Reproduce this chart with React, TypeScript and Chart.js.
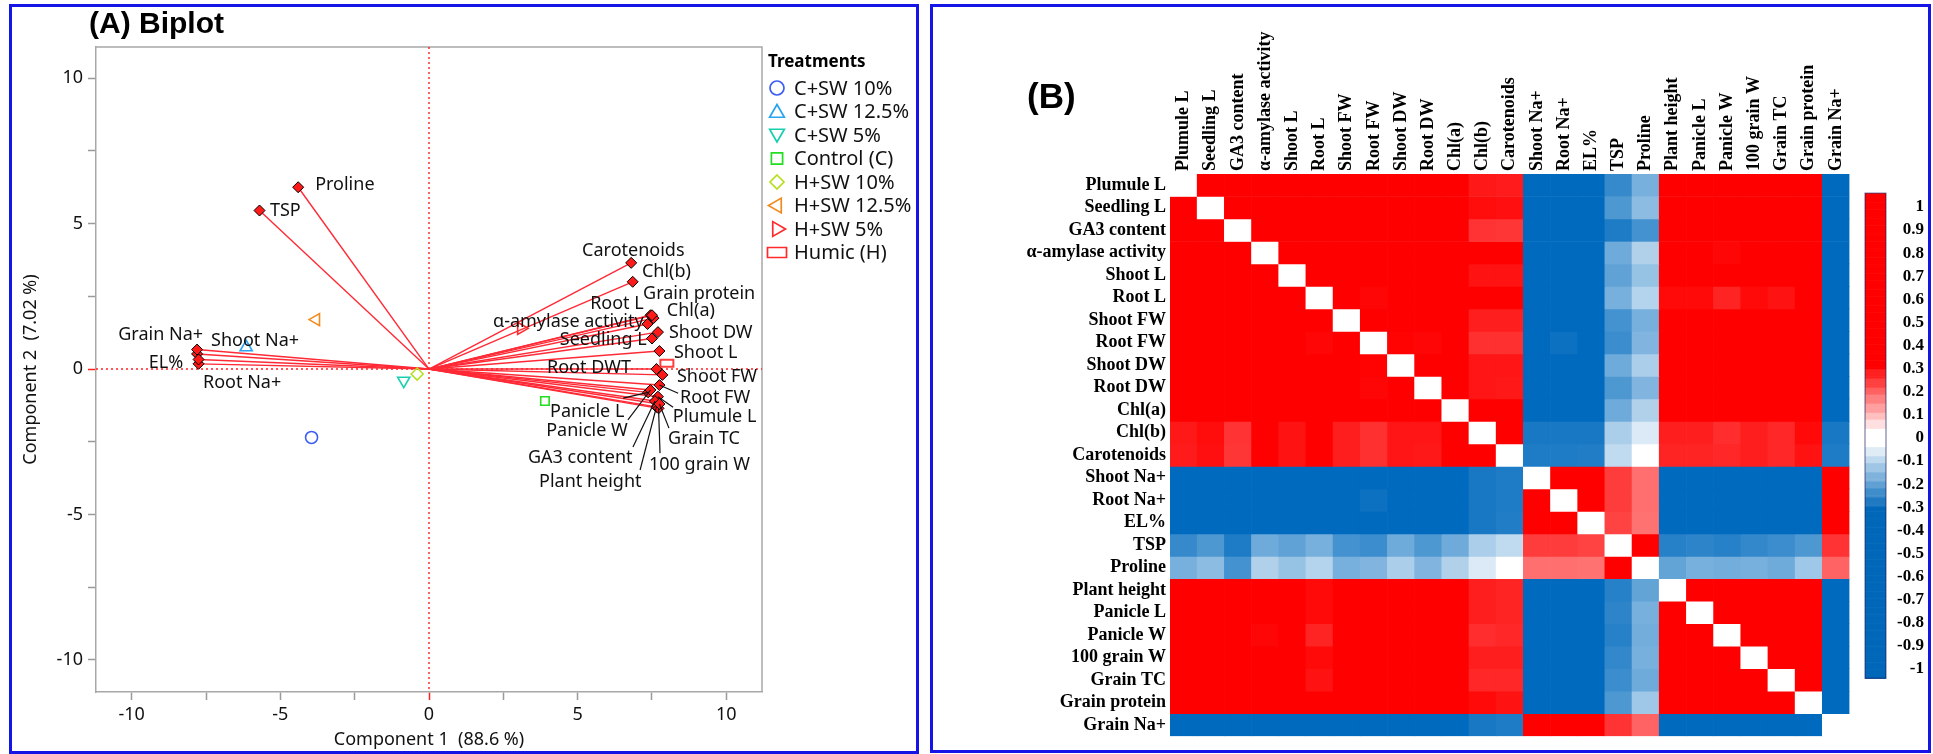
import React, { useEffect, useRef } from "react";
import { Chart, registerables } from "chart.js";

Chart.register(...registerables);

// ================= Biplot data =================
const treatments = ["C+SW 10%", "C+SW 12.5%", "C+SW 5%", "Control (C)", "H+SW 10%", "H+SW 12.5%", "H+SW 5%", "Humic (H)"];
const scoreX = [-3.95, -6.15, -0.85, 3.9, -0.4, -3.8, 3.1, 8.0];
const scoreY = [-2.35, 0.75, -0.4, -1.1, -0.17, 1.7, 1.4, 0.2];

const biplotVars = [
  "Plumule L", "Seedling L", "GA3 content", "α-amylase activity", "Shoot L", "Root L", "Shoot FW", "Root FW",
  "Shoot DW", "Root DWT", "Chl(a)", "Chl(b)", "Carotenoids", "Shoot Na+", "Root Na+", "EL%", "TSP", "Proline",
  "Plant height", "Panicle L", "Panicle W", "100 grain W", "Grain TC", "Grain protein", "Grain Na+",
];
const loadX = [7.7, 7.5, 7.6, 7.35, 7.75, 7.45, 7.85, 7.75, 7.7, 7.65, 7.55, 6.85, 6.8, -7.8, -7.75, -7.75, -5.7, -4.4, 7.65, 7.37, 7.45, 7.72, 7.75, 7.5, -7.8];
const loadY = [-0.95, 1.05, -1.1, 1.55, 0.62, 1.85, -0.2, -0.55, 1.27, 0.0, 1.75, 3.0, 3.65, 0.52, 0.18, 0.33, 5.45, 6.25, -1.3, -0.8, -0.72, -1.35, -1.2, 1.85, 0.67];

const xAxisTitle = "Component 1  (88.6 %)";
const yAxisTitle = "Component 2  (7.02 %)";

// ================= Heatmap data =================
const heatVars = [
  "Plumule L", "Seedling L", "GA3 content", "α-amylase activity", "Shoot L", "Root L", "Shoot FW", "Root FW",
  "Shoot DW", "Root DW", "Chl(a)", "Chl(b)", "Carotenoids", "Shoot Na+", "Root Na+", "EL%", "TSP", "Proline",
  "Plant height", "Panicle L", "Panicle W", "100 grain W", "Grain TC", "Grain protein", "Grain Na+",
];
// lower triangle of the correlation matrix (row i, columns 0..i-1)
const corrLower: number[][] = [
  [],
  [0.97],
  [0.96, 0.95],
  [0.97, 0.96, 0.95],
  [0.98, 0.97, 0.95, 0.97],
  [0.96, 0.97, 0.94, 0.96, 0.97],
  [0.98, 0.97, 0.93, 0.96, 0.98, 0.96],
  [0.97, 0.96, 0.93, 0.95, 0.96, 0.88, 0.97],
  [0.97, 0.96, 0.92, 0.97, 0.98, 0.96, 0.97, 0.89],
  [0.96, 0.95, 0.93, 0.96, 0.97, 0.95, 0.96, 0.88, 0.97],
  [0.97, 0.96, 0.91, 0.97, 0.97, 0.96, 0.96, 0.94, 0.96, 0.96],
  [0.82, 0.86, 0.73, 0.93, 0.84, 0.91, 0.8, 0.74, 0.83, 0.83, 0.93],
  [0.81, 0.85, 0.72, 0.92, 0.84, 0.9, 0.8, 0.74, 0.83, 0.82, 0.92, 0.96],
  [-0.95, -0.95, -0.93, -0.96, -0.95, -0.93, -0.95, -0.94, -0.96, -0.95, -0.95, -0.82, -0.8],
  [-0.95, -0.94, -0.94, -0.95, -0.95, -0.93, -0.95, -0.86, -0.95, -0.95, -0.94, -0.82, -0.8, 0.96],
  [-0.95, -0.95, -0.94, -0.95, -0.96, -0.94, -0.95, -0.95, -0.96, -0.95, -0.95, -0.82, -0.79, 0.95, 0.96],
  [-0.72, -0.64, -0.8, -0.53, -0.58, -0.5, -0.67, -0.7, -0.53, -0.64, -0.53, -0.33, -0.26, 0.7, 0.7, 0.68],
  [-0.5, -0.43, -0.67, -0.31, -0.4, -0.3, -0.5, -0.47, -0.33, -0.47, -0.31, -0.17, -0.05, 0.53, 0.53, 0.52, 0.93],
  [0.97, 0.96, 0.95, 0.97, 0.97, 0.87, 0.97, 0.95, 0.97, 0.96, 0.97, 0.8, 0.78, -0.95, -0.95, -0.95, -0.77, -0.57],
  [0.97, 0.96, 0.95, 0.96, 0.97, 0.87, 0.96, 0.95, 0.96, 0.96, 0.96, 0.8, 0.78, -0.95, -0.95, -0.94, -0.75, -0.5, 0.97],
  [0.96, 0.95, 0.94, 0.88, 0.96, 0.78, 0.96, 0.91, 0.96, 0.95, 0.96, 0.75, 0.77, -0.94, -0.94, -0.92, -0.77, -0.52, 0.97, 0.97],
  [0.97, 0.96, 0.95, 0.97, 0.97, 0.87, 0.97, 0.95, 0.97, 0.96, 0.97, 0.8, 0.8, -0.95, -0.95, -0.95, -0.73, -0.5, 0.97, 0.97, 0.96],
  [0.97, 0.96, 0.95, 0.96, 0.97, 0.84, 0.96, 0.94, 0.96, 0.96, 0.96, 0.77, 0.77, -0.95, -0.95, -0.95, -0.7, -0.53, 0.97, 0.96, 0.92, 0.97],
  [0.96, 0.96, 0.95, 0.97, 0.96, 0.95, 0.96, 0.95, 0.96, 0.96, 0.96, 0.87, 0.84, -0.94, -0.94, -0.94, -0.64, -0.37, 0.96, 0.96, 0.96, 0.93, 0.97],
  [-0.95, -0.95, -0.93, -0.95, -0.95, -0.93, -0.95, -0.94, -0.95, -0.95, -0.95, -0.82, -0.8, 0.95, 0.95, 0.95, 0.73, 0.57, -0.95, -0.95, -0.93, -0.95, -0.95, -0.94],
];
const colorbarTicks = [1, 0.9, 0.8, 0.7, 0.6, 0.5, 0.4, 0.3, 0.2, 0.1, 0, -0.1, -0.2, -0.3, -0.4, -0.5, -0.6, -0.7, -0.8, -0.9, -1];

// ================= Styles =================
const sansFont = '"Noto Sans", "Open Sans", sans-serif';
const serifFont = '"Liberation Serif", "DejaVu Serif", serif';
const treatmentColors = ["#3d5ef2", "#27a4f2", "#19cfb0", "#22dd22", "#b5e01e", "#f28a1e", "#ff2a2a", "#ff2a2a"];
const treatmentShapes = [
  { style: "circle", rotation: 0 },
  { style: "triangle", rotation: 0 },
  { style: "triangle", rotation: 180 },
  { style: "rect", rotation: 0 },
  { style: "rectRot", rotation: 0 },
  { style: "triangle", rotation: -90 },
  { style: "triangle", rotation: 90 },
  { style: "wide", rotation: 0 },
];
type LabelLayout = { x: number; y: number; align: CanvasTextAlign; lx?: number; ly?: number };
// label placement (in axis units) for each biplot variable, same order as biplotVars
const labelLayout: LabelLayout[] = [
  { x: 8.2, y: -1.65, align: "left", lx: 8.21, ly: -1.31 },
  { x: 4.4, y: 1.0, align: "left" },
  { x: 3.33, y: -3.06, align: "left", lx: 6.86, ly: -2.68 },
  { x: 2.15, y: 1.62, align: "left" },
  { x: 8.24, y: 0.55, align: "left" },
  { x: 5.42, y: 2.23, align: "left" },
  { x: 8.34, y: -0.27, align: "left" },
  { x: 8.44, y: -1.0, align: "left", lx: 8.38, ly: -0.83 },
  { x: 8.07, y: 1.24, align: "left" },
  { x: 3.97, y: 0.03, align: "left" },
  { x: 8.0, y: 1.99, align: "left" },
  { x: 7.16, y: 3.34, align: "left" },
  { x: 5.15, y: 4.06, align: "left" },
  { x: -7.33, y: 0.96, align: "left" },
  { x: -7.6, y: -0.48, align: "left" },
  { x: -8.27, y: 0.2, align: "right" },
  { x: -5.35, y: 5.43, align: "left" },
  { x: -3.83, y: 6.33, align: "left" },
  { x: 3.7, y: -3.88, align: "left", lx: 7.1, ly: -3.47 },
  { x: 4.07, y: -1.48, align: "left", lx: 6.53, ly: -1.0 },
  { x: 3.94, y: -2.13, align: "left", lx: 6.69, ly: -1.75 },
  { x: 7.4, y: -3.3, align: "left", lx: 7.77, ly: -2.89 },
  { x: 8.04, y: -2.41, align: "left", lx: 8.07, ly: -2.03 },
  { x: 7.2, y: 2.58, align: "left" },
  { x: -7.6, y: 1.17, align: "right" },
];

function wideRectImage(color: string, w: number, h: number) {
  const c = document.createElement("canvas");
  c.width = w + 4;
  c.height = h + 4;
  const g = c.getContext("2d")!;
  g.strokeStyle = color;
  g.lineWidth = 1.8;
  g.strokeRect(2, 2, w, h);
  return c;
}

function drawShape(ctx: CanvasRenderingContext2D, style: string, rotation: number, x: number, y: number, r: number, color: string) {
  ctx.save();
  ctx.strokeStyle = color;
  ctx.lineWidth = 1.7;
  ctx.beginPath();
  if (style === "circle") {
    ctx.arc(x, y, r, 0, Math.PI * 2);
  } else if (style === "triangle") {
    const rot = (rotation * Math.PI) / 180;
    for (let k = 0; k < 3; k++) {
      const a = rot - Math.PI / 2 + (k * 2 * Math.PI) / 3;
      const px = x + r * Math.cos(a);
      const py = y + r * Math.sin(a) + (rotation === 0 ? 1.5 : rotation === 180 ? -1.5 : 0);
      if (k === 0) ctx.moveTo(px, py);
      else ctx.lineTo(px, py);
    }
    ctx.closePath();
  } else if (style === "rect") {
    ctx.rect(x - r * 0.8, y - r * 0.8, r * 1.6, r * 1.6);
  } else if (style === "rectRot") {
    ctx.moveTo(x, y - r);
    ctx.lineTo(x + r, y);
    ctx.lineTo(x, y + r);
    ctx.lineTo(x - r, y);
    ctx.closePath();
  } else if (style === "wide") {
    ctx.rect(x - 9.5, y - 5, 19, 10);
  }
  ctx.stroke();
  ctx.restore();
}

const biplotPlugin = {
  id: "biplotDeco",
  beforeDatasetsDraw(chart: any) {
    const { ctx, chartArea: a, scales } = chart;
    const x0 = scales.x.getPixelForValue(0);
    const y0 = scales.y.getPixelForValue(0);
    ctx.save();
    ctx.strokeStyle = "#a8a8a8";
    ctx.lineWidth = 1.5;
    ctx.beginPath();
    ctx.moveTo(a.left, a.top);
    ctx.lineTo(a.right, a.top);
    ctx.lineTo(a.right, a.bottom);
    ctx.stroke();
    ctx.strokeStyle = "#ff2020";
    ctx.lineWidth = 1.4;
    ctx.setLineDash([2, 3]);
    ctx.beginPath();
    ctx.moveTo(x0, a.top);
    ctx.lineTo(x0, a.bottom);
    ctx.moveTo(a.left, y0);
    ctx.lineTo(a.right, y0);
    ctx.stroke();
    ctx.restore();
  },
  afterDatasetsDraw(chart: any) {
    const { ctx, scales } = chart;
    const sx = scales.x, sy = scales.y;
    ctx.save();
    // leader lines
    ctx.strokeStyle = "#111";
    ctx.lineWidth = 1.2;
    labelLayout.forEach((l, i) => {
      if (l.lx === undefined || l.ly === undefined) return;
      ctx.beginPath();
      ctx.moveTo(sx.getPixelForValue(loadX[i]), sy.getPixelForValue(loadY[i]));
      ctx.lineTo(sx.getPixelForValue(l.lx), sy.getPixelForValue(l.ly));
      ctx.stroke();
    });
    // labels
    ctx.font = `18px ${sansFont}`;
    ctx.fillStyle = "#111";
    ctx.textBaseline = "middle";
    labelLayout.forEach((l, i) => {
      ctx.textAlign = l.align;
      ctx.fillText(biplotVars[i], sx.getPixelForValue(l.x), sy.getPixelForValue(l.y));
    });
    // title
    ctx.font = `bold 30px "Liberation Sans", Arial, sans-serif`;
    ctx.textAlign = "left";
    ctx.fillStyle = "#000";
    ctx.fillText("(A) Biplot", 77, 18);
    // legend
    ctx.font = `bold 17px ${sansFont}`;
    ctx.fillText("Treatments", 756, 55);
    ctx.font = `20px ${sansFont}`;
    treatments.forEach((t, i) => {
      const yy = 81 + i * 23.5;
      const sh = treatmentShapes[i];
      drawShape(ctx, sh.style, sh.rotation, 765, yy, sh.style === "triangle" ? 8.5 : 7, treatmentColors[i]);
      ctx.fillStyle = "#111";
      ctx.fillText(t, 782, yy + 1);
    });
    ctx.restore();
  },
};

function biplotConfig(): any {
  const treatmentSets = treatments.map((name, i) => {
    const sh = treatmentShapes[i];
    return {
      type: "scatter",
      label: name,
      data: [{ x: scoreX[i], y: scoreY[i] }],
      pointStyle: sh.style === "wide" ? wideRectImage(treatmentColors[i], 13, 7) : sh.style,
      pointRotation: sh.rotation,
      pointRadius: sh.style === "triangle" ? 7 : 6,
      pointBorderWidth: 1.6,
      borderColor: treatmentColors[i],
      backgroundColor: "rgba(0,0,0,0)",
      showLine: false,
    };
  });
  const tipSet = {
    type: "scatter",
    label: "tips",
    data: biplotVars.map((_, i) => ({ x: loadX[i], y: loadY[i] })),
    pointStyle: "rectRot",
    pointRadius: 5.5,
    pointBorderWidth: 1,
    borderColor: "#000",
    backgroundColor: "#ff1a1a",
    showLine: false,
  };
  const vectorSets = biplotVars.map((name, i) => ({
    type: "scatter",
    label: name,
    data: [{ x: 0, y: 0 }, { x: loadX[i], y: loadY[i] }],
    showLine: true,
    borderColor: "#ff2a36",
    borderWidth: 1.4,
    pointRadius: 0,
  }));
  const tickColor = (c: any) => (c.tick && c.tick.value === 0 ? "#ff2020" : "#9a9a9a");
  const label5 = (v: any) => (Math.abs(Number(v) % 5) < 1e-9 ? String(v) : "");
  return {
    type: "scatter",
    data: { datasets: [...treatmentSets, tipSet, ...vectorSets] },
    options: {
      animation: false,
      responsive: false,
      layout: { padding: { left: 0, top: 40, right: 153, bottom: 0 } },
      plugins: { legend: { display: false }, tooltip: { enabled: false } },
      scales: {
        x: {
          type: "linear",
          min: -11.2,
          max: 11.2,
          afterFit: (s: any) => { s.height = 59; },
          ticks: { stepSize: 2.5, includeBounds: false, autoSkip: false, maxRotation: 0, padding: 4, color: "#111", font: { family: sansFont, size: 18 }, callback: label5 },
          grid: { drawOnChartArea: false, drawTicks: true, tickLength: 8, tickWidth: 1.5, tickColor },
          border: { display: true, color: "#a8a8a8", width: 1.5 },
          title: { display: true, text: xAxisTitle, color: "#111", font: { family: sansFont, size: 18 }, padding: { top: 0, bottom: 0 } },
        },
        y: {
          type: "linear",
          min: -11.1,
          max: 11.07,
          afterFit: (s: any) => { s.width = 84; },
          ticks: { stepSize: 2.5, includeBounds: false, autoSkip: false, padding: 5, color: "#111", font: { family: sansFont, size: 18 }, callback: label5 },
          grid: { drawOnChartArea: false, drawTicks: true, tickLength: 8, tickWidth: 1.5, tickColor },
          border: { display: true, color: "#a8a8a8", width: 1.5 },
          title: { display: true, text: yAxisTitle, color: "#111", font: { family: sansFont, size: 18 }, padding: { top: 8, bottom: 0 } },
        },
      },
    },
    plugins: [biplotPlugin],
  };
}

// ================= Heatmap =================
function corrAt(i: number, j: number) {
  if (i === j) return 1;
  return i > j ? corrLower[i][j] : corrLower[j][i];
}
function cellColor(v: number) {
  const a = Math.abs(v);
  const t = Math.max(0, Math.min(1, (a - 0.05) / 0.85));
  if (v >= 0) {
    const g = Math.round(255 * (1 - t));
    return `rgb(255,${g},${g})`;
  }
  return `rgb(${Math.round(255 * (1 - t))},${Math.round(255 - 149 * t)},${Math.round(255 - 65 * t)})`;
}
function barColor(v: number) {
  const a = Math.abs(v);
  if (a < 0.04) return "#ffffff";
  const t = Math.min(1, Math.ceil(((a - 0.04) / 0.29) * 8) / 8);
  if (v > 0) {
    const g = Math.round(255 * (1 - t));
    return `rgb(255,${g},${g})`;
  }
  return `rgb(${Math.round(255 * (1 - t))},${Math.round(255 - 152 * t)},${Math.round(255 - 70 * t)})`;
}

const heatPlugin = {
  id: "heatDeco",
  afterDraw(chart: any) {
    const { ctx } = chart;
    ctx.save();
    ctx.font = `bold 35px "Liberation Sans", Arial, sans-serif`;
    ctx.fillStyle = "#000";
    ctx.textBaseline = "middle";
    ctx.textAlign = "left";
    ctx.fillText("(B)", 94, 91);
    // colorbar
    const bx = 932, bw = 21, zeroY = 431, unit = 231;
    const vTop = 1.06, vBot = -1.04;
    const steps = 212;
    for (let k = 0; k < steps; k++) {
      const v1 = vTop - ((vTop - vBot) * k) / steps;
      const v2 = vTop - ((vTop - vBot) * (k + 1)) / steps;
      ctx.fillStyle = barColor((v1 + v2) / 2);
      const y1 = zeroY - v1 * unit;
      const y2 = zeroY - v2 * unit;
      ctx.fillRect(bx, y1, bw, y2 - y1 + 0.6);
    }
    ctx.strokeStyle = "rgba(20,20,90,0.55)";
    ctx.lineWidth = 1.2;
    ctx.strokeRect(bx, zeroY - vTop * unit, bw, (vTop - vBot) * unit);
    ctx.font = `bold 17px ${serifFont}`;
    ctx.fillStyle = "#000";
    ctx.textAlign = "right";
    colorbarTicks.forEach((v) => {
      ctx.fillText(String(v), 991, zeroY - v * unit);
    });
    ctx.restore();
  },
};

function heatmapConfig(): any {
  const datasets = heatVars.map((_, r) => ({
    label: heatVars[r],
    data: heatVars.map(() => [r, r + 1]),
    backgroundColor: heatVars.map((__, c) => (r === c ? "#ffffff" : cellColor(corrAt(r, c)))),
    borderWidth: 0,
    barPercentage: 1,
    categoryPercentage: 1,
    grouped: false,
  }));
  const labelFont = { family: serifFont, size: 18, weight: "bold" };
  return {
    type: "bar",
    data: { labels: heatVars, datasets },
    options: {
      animation: false,
      responsive: false,
      layout: { padding: { left: 0, top: 0, right: 78.5, bottom: 1.5 } },
      plugins: { legend: { display: false }, tooltip: { enabled: false } },
      scales: {
        x: {
          type: "category",
          position: "top",
          afterFit: (s: any) => { s.height = 167; },
          grid: { display: false, drawTicks: false },
          border: { display: false },
          ticks: { autoSkip: false, minRotation: 90, maxRotation: 90, padding: 3, labelOffset: 21.6, color: "#000", font: labelFont },
        },
        y: {
          type: "linear",
          min: 0,
          max: 25,
          reverse: true,
          afterFit: (s: any) => { s.width = 237; },
          afterBuildTicks: (s: any) => { s.ticks = heatVars.map((_, i) => ({ value: i + 0.5 })); },
          grid: { display: false, drawTicks: false },
          border: { display: false },
          ticks: { autoSkip: false, padding: 4, color: "#000", font: labelFont, callback: (v: any) => heatVars[Math.floor(Number(v))] },
        },
      },
    },
    plugins: [heatPlugin],
  };
}

export default function App() {
  const biRef = useRef<HTMLCanvasElement>(null);
  const hmRef = useRef<HTMLCanvasElement>(null);
  useEffect(() => {
    const c1 = new Chart(biRef.current!, biplotConfig());
    const c2 = new Chart(hmRef.current!, heatmapConfig());
    return () => {
      c1.destroy();
      c2.destroy();
    };
  }, []);
  const border = "3px solid #1414e6";
  return (
    <div>
      <div style={{ position: "absolute", left: 9, top: 4, width: 910, height: 750, boxSizing: "border-box", border }} />
      <div style={{ position: "absolute", left: 930, top: 4, width: 1001, height: 749, boxSizing: "border-box", border }} />
      <canvas ref={biRef} width={903} height={744} style={{ position: "absolute", left: 12, top: 7 }} />
      <canvas ref={hmRef} width={995} height={744} style={{ position: "absolute", left: 933, top: 7 }} />
    </div>
  );
}
